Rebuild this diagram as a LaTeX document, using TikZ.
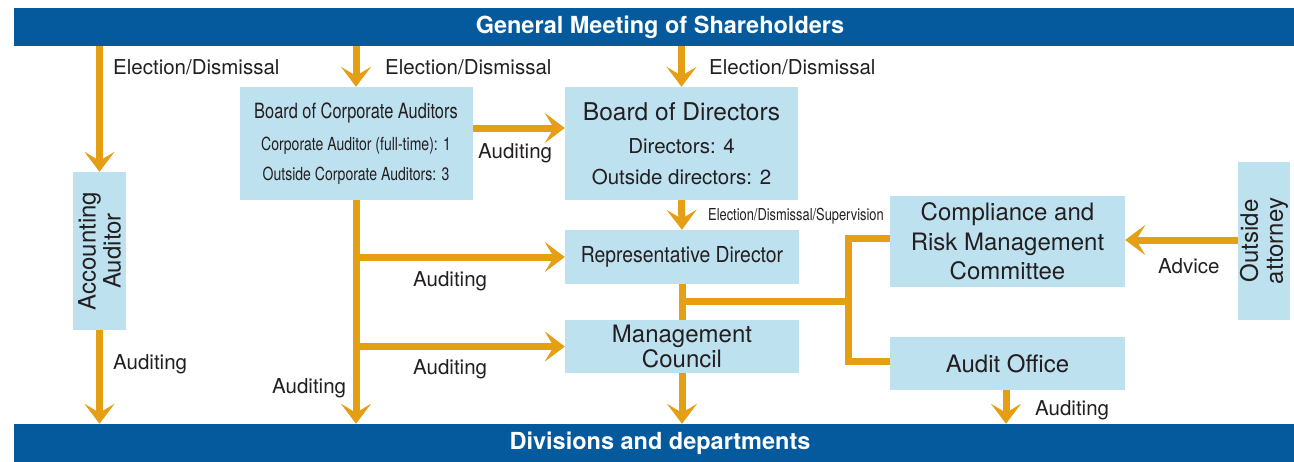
\documentclass[tikz,border=0pt]{standalone}
\usepackage{fontspec}
\setmainfont{TeX Gyre Heros}
\newfontfamily\narrowfont[FakeStretch=0.78]{TeX Gyre Heros}
\newfontfamily\semifont[FakeStretch=0.88]{TeX Gyre Heros}
\usetikzlibrary{arrows.meta,positioning,calc}
\definecolor{barblue}{HTML}{045A9D}
\definecolor{boxblue}{HTML}{BEE1EF}
\definecolor{flowor}{HTML}{E49F14}
\definecolor{ink}{HTML}{231F20}
\tikzset{
    bar/.style={fill=barblue, text=white, inner sep=0pt, minimum width=1280pt, minimum height=38pt,
                font=\fontsize{23.5}{26}\selectfont\bfseries},
    unit/.style={fill=boxblue, text=ink, inner sep=0pt, align=center},
    unittext/.style={text=ink, inner sep=0pt, align=center, font=\fontsize{24}{25}\selectfont},
    flow/.style={draw=flowor, line width=7pt, -{Stealth[length=20pt,width=30pt,inset=9pt]}},
    link/.style={draw=flowor, line width=7pt},
    lbl/.style={text=ink, anchor=west, inner sep=0pt, font=\fontsize{20.5}{24}\selectfont},
    tinylbl/.style={text=ink, anchor=west, inner sep=0pt, font=\narrowfont\fontsize{16.5}{18}\selectfont},
}

\begin{document}
\begin{tikzpicture}[x=1pt, y=-1pt]
    \useasboundingbox (0,0) rectangle (1294,461);

    % Bars
    \node[bar] (gms) at (654,27) {\hspace*{12pt}General Meeting of Shareholders};
    \node[bar] (div) at (654,443) {\hspace*{12pt}Divisions and departments};

    % Boxes
    \node[unit, minimum width=53pt, minimum height=158pt] (acct) at (99.5,251) {};
    \node[unittext, rotate=90] (acctT) at (acct) {Accounting\\Auditor};

    \node[unit, minimum width=233pt, minimum height=113pt, font=\narrowfont\fontsize{18}{30}\selectfont]
        (bca) at (356,143.5)
        {\fontsize{21}{30}\selectfont Board of Corporate Auditors\\[2pt]
         \fontsize{18}{30}\selectfont Corporate Auditor (full-time): 1\\
         Outside Corporate Auditors: 3};

    \node[unit, minimum width=233pt, minimum height=113pt, font=\fontsize{20.5}{31}\selectfont]
        (bod) at (681.5,143.5)
        {\fontsize{24.5}{31}\selectfont Board of Directors\\[2pt]
         \fontsize{20.5}{31}\selectfont Directors: 4\\
         Outside directors: 2};

    \node[unit, minimum width=234pt, minimum height=54pt, font=\semifont\fontsize{22}{24}\selectfont]
        (rep) at (682,257) {Representative Director};
    \node[unit, minimum width=234pt, minimum height=53pt, font=\fontsize{24}{25}\selectfont]
        (mc) at (682,346.5) {Management\\Council};

    \node[unit, minimum width=235pt, minimum height=91pt, font=\fontsize{24}{29.5}\selectfont]
        (crm) at (1007.5,241.5) {Compliance and\\Risk Management\\Committee};
    \node[unit, minimum width=235pt, minimum height=53pt, font=\fontsize{24}{25}\selectfont]
        (ao) at (1007.5,363.5) {Audit Office};

    \node[unit, minimum width=52pt, minimum height=158pt] (att) at (1264,241) {};
    \node[unittext, rotate=90] (attT) at (att) {Outside\\attorney};

    % Election from the meeting
    \draw[flow] (gms.south -| acct.north) -- (acct.north);
    \draw[flow] (gms.south -| bca.north) -- (bca.north);
    \draw[flow] (gms.south -| bod.north) -- (bod.north);
    \node[lbl] (e1) at (113,67) {Election/Dismissal};
    \node[lbl] (e2) at (385,67) {Election/Dismissal};
    \node[lbl] (e3) at (709,67) {Election/Dismissal};

    % Auditing
    \draw[flow] (acct.south) -- (acct.south |- div.north);
    \draw[flow] (bca.east |- 0,128) -- (bod.west |- 0,128);
    \draw[flow] (bca.south) -- (bca.south |- div.north);
    \draw[flow] (bca.south |- rep.west) -- (rep.west);
    \draw[flow] (bca.south |- mc.west) -- (mc.west);
    \node[lbl] (a1) at (113,364) {Auditing};
    \node[lbl] (a2) at (478,153) {Auditing};
    \node[lbl] (a3) at (413,281) {Auditing};
    \node[lbl] (a4) at (413,369) {Auditing};
    \node[lbl] (a5) at (272,388) {Auditing};

    % Executive line
    \draw[flow] (bod.south) -- (rep.north);
    \node[tinylbl] (sup) at (708,216) {Election/Dismissal/Supervision};
    \draw[link] (rep.south) -- (mc.north);
    \coordinate (j1) at (682,301);
    \coordinate (j2) at (848,301);
    \draw[link] (j1) -- (j2);
    \draw[link] ($(crm.west)+(0,-3)$) -| (j2) |- ($(ao.west)+(0,-2)$);
    \draw[flow] (mc.south) -- (mc.south |- div.north);

    % Audit office and advice
    \draw[flow] (ao.south -| 1006,0) -- (div.north -| 1006,0);
    \node[lbl] (a6) at (1035,410) {Auditing};
    \draw[flow] (att.west |- 0,240) -- (crm.east |- 0,240);
    \node[lbl] (adv) at (1158,266) {Advice};
\end{tikzpicture}
\end{document}
